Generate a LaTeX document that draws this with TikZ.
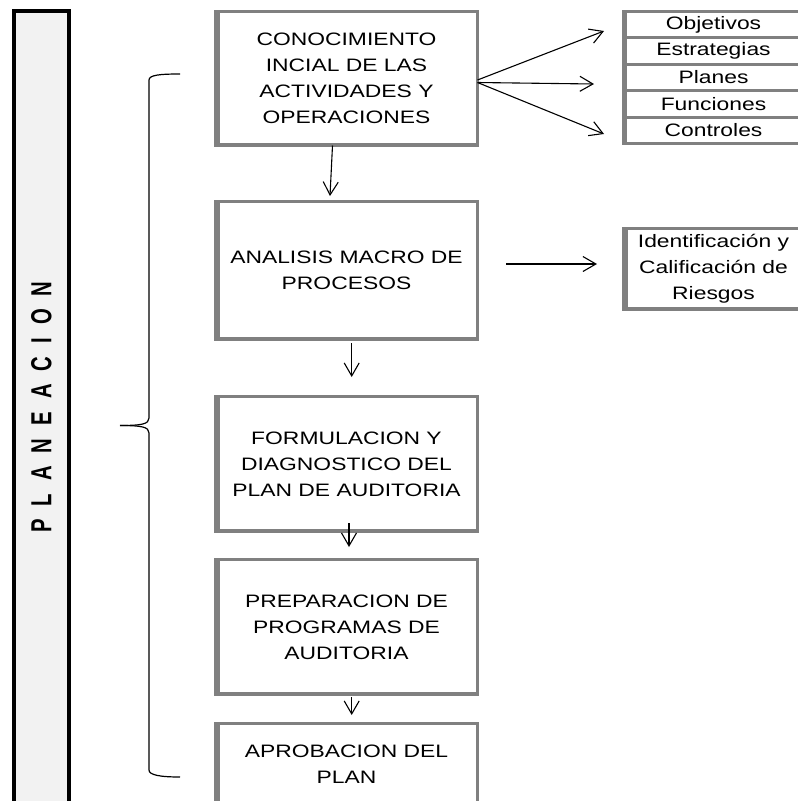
\documentclass[tikz,border=0pt]{standalone}
\usepackage{fontspec}
\setmainfont{Liberation Sans}[FakeStretch=1.27]
\newfontfamily\planfont{Liberation Sans}[FakeStretch=0.7]
\usetikzlibrary{arrows.meta}
\definecolor{boxgray}{HTML}{808080}
\definecolor{barfill}{HTML}{F2F2F2}
\begin{document}
\begin{tikzpicture}[x=1pt,y=-1pt,
  boxst/.style={draw=boxgray, line width=3pt, outer sep=0pt, inner sep=0pt, minimum width=262pt, align=center, font=\fontsize{18}{26}\selectfont},
  rowst/.style={draw=boxgray, line width=3pt, outer sep=0pt, inner sep=0pt, minimum width=180pt, minimum height=26.4pt, font=\fontsize{18}{20}\selectfont},
  arr/.style={-{Straight Barb[length=13pt,width=15pt]}, line width=1.1pt, black},
  bracest/.style={line width=1.2pt, black}
]
\useasboundingbox (0,0) rectangle (798,801);
% left bar
\node[draw=black, line width=4pt, fill=barfill, outer sep=0pt, inner sep=0pt, minimum width=54.7pt, minimum height=806pt] (bar) at (41.35,414) {};
\node[font=\planfont\bfseries\fontsize{29}{29}\selectfont, rotate=90, inner sep=0pt] (plan) at (41.5,407) {\spaceskip=13pt P L A N E A C I O N};
% main boxes
\node[boxst, minimum height=134pt] (b1) at (346.5,78.5) {CONOCIMIENTO\\INCIAL DE LAS\\ACTIVIDADES Y\\OPERACIONES};
\node[boxst, minimum height=138pt] (b2) at (346.5,270.5) {ANALISIS MACRO DE\\PROCESOS};
\node[boxst, minimum height=135pt] (b3) at (346.5,464) {FORMULACION Y\\DIAGNOSTICO DEL\\PLAN DE AUDITORIA};
\node[boxst, minimum height=135pt] (b4) at (346.5,627) {PREPARACION DE\\PROGRAMAS DE\\AUDITORIA};
\node[boxst, minimum height=81pt] (b5) at (346.5,764) {APROBACION DEL\\PLAN};
% list rows
\node[rowst] (r1) at (713.5,24.7) {Objetivos};
\node[rowst] (r2) at (713.5,51.1) {Estrategias};
\node[rowst] (r3) at (713.5,77.5) {Planes};
\node[rowst] (r4) at (713.5,103.9) {Funciones};
\node[rowst] (r5) at (713.5,130.3) {Controles};
% risk box
\node[draw=boxgray, line width=3pt, outer sep=0pt, inner sep=0pt, minimum width=180pt, minimum height=81pt, align=center, font=\fontsize{18}{26}\selectfont] (rg) at (713.5,269) {Identificación y\\Calificación de\\Riesgos};
% shadow edges
\foreach \n in {b1,b2,b3,b4,b5,rg}{
  \fill[boxgray] ([xshift=-1.5pt,yshift=1.5pt]\n.north west) rectangle ([xshift=4.5pt,yshift=-1.5pt]\n.south west);
  \fill[boxgray] ([xshift=-1.5pt,yshift=-1.5pt]\n.south west) rectangle ([xshift=1.5pt,yshift=3pt]\n.south east);
}
\fill[boxgray] ([xshift=-1.5pt,yshift=1.5pt]r1.north west) rectangle ([xshift=3.5pt,yshift=-1.5pt]r5.south west);
% arrows
\draw[arr] ([xshift=-14pt]b1.south) -- ([xshift=-16.5pt,yshift=5.5pt]b2.north);
\draw[arr] ([xshift=5.2pt,yshift=-3.5pt]b2.south) -- ([xshift=5.2pt,yshift=19.5pt]b3.north);
\draw[arr] ([xshift=2.5pt,yshift=8.5pt]b3.south) -- ([xshift=2.5pt,yshift=12.5pt]b4.north);
\draw[arr] ([xshift=5.2pt,yshift=-2.5pt]b4.south) -- ([xshift=5.2pt,yshift=8.5pt]b5.north);
\coordinate (f1) at (604,31);
\coordinate (f2) at (594,84);
\coordinate (f3) at (604,134);
\draw[arr] ([yshift=-1.5pt]b1.east) -- (f1);
\draw[arr] ([yshift=-4pt]b1.east) -- (f2);
\draw[arr] ([yshift=-4pt]b1.east) -- (f3);
\draw[arr] ([xshift=28.5pt,yshift=6.5pt]b2.east) -- ([xshift=-26.5pt,yshift=5pt]rg.west);
% brace
\draw[bracest] (180,74) .. controls (160,74) and (149,75) .. (149,80) -- (149,418) .. controls (149,424) and (142,425.5) .. (120,425.5);
\draw[bracest] (120,425.5) .. controls (142,425.5) and (149,427) .. (149,433) -- (149,770) .. controls (149,775) and (160,777) .. (180,777);
\end{tikzpicture}
\end{document}
